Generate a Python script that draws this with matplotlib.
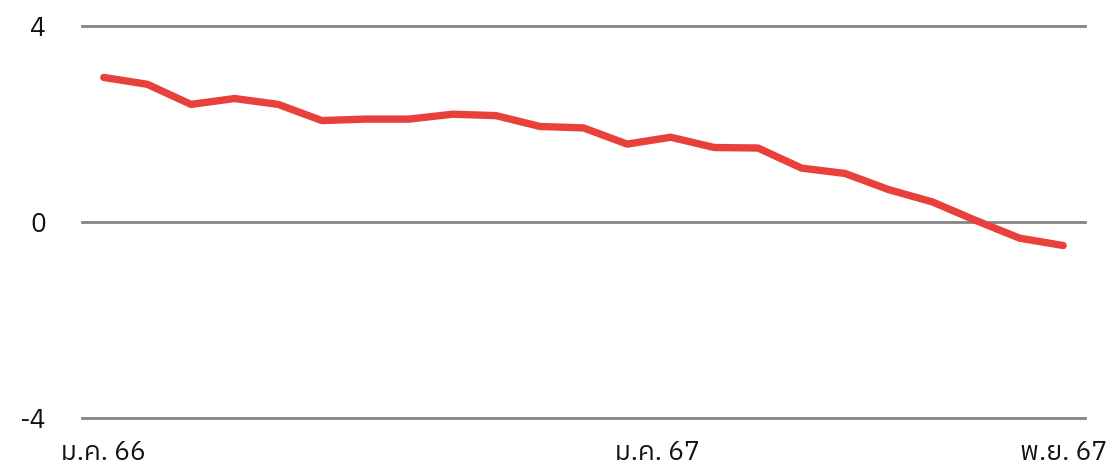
import matplotlib
matplotlib.use('Agg')
import matplotlib.pyplot as plt
from matplotlib import font_manager

# Values (monthly, ม.ค. 66 - พ.ย. 67)
values = [2.95, 2.81, 2.40, 2.52, 2.40, 2.07, 2.10, 2.10, 2.20, 2.17, 1.95,
          1.92, 1.59, 1.73, 1.52, 1.51, 1.10, 0.99, 0.66, 0.41, 0.03, -0.33, -0.48]
tick_labels = ['ม.ค. 66', 'ม.ค. 67', 'พ.ย. 67']
tick_pos = [0, 12.7, 22]
y_ticks = [-4, 0, 4]


def find_thai_font():
    # look for an installed family that has Thai glyphs
    try:
        from fontTools.ttLib import TTFont
    except Exception:
        return None
    found = []
    for f in font_manager.fontManager.ttflist:
        try:
            tt = TTFont(f.fname, fontNumber=0, lazy=True)
            cmap = tt.getBestCmap()
            if cmap and 0x0E21 in cmap and 0x0E04 in cmap:
                found.append(f.name)
        except Exception:
            pass
    if not found:
        return None
    found.sort(key=lambda n: (('Thai' not in n), ('Looped' in n), ('UI' in n),
                              ('Sans' not in n), n))
    return found[0]


thai = find_thai_font()
families = [thai, 'Noto Sans', 'DejaVu Sans'] if thai else ['Noto Sans', 'DejaVu Sans']
plt.rcParams['font.family'] = families

fig = plt.figure(figsize=(11.12, 4.67), dpi=100)
ax = fig.add_axes([82 / 1112, 1 - 418 / 467, (1085 - 82) / 1112, (418 - 26) / 467])

ax.plot(range(len(values)), values, color='#e8403a', linewidth=5.3,
        solid_capstyle='round', solid_joinstyle='round', zorder=3)

ax.set_xlim(-0.5, len(values) - 0.5)
ax.set_ylim(-4, 4)
ax.set_yticks(y_ticks)
ax.set_yticklabels([str(v) for v in y_ticks])
ax.set_xticks(tick_pos)
ax.set_xticklabels(tick_labels)

ax.yaxis.grid(True, color='#858585', linewidth=2)
ax.set_axisbelow(True)
for line in ax.get_ygridlines():
    line.set_clip_on(False)
for s in ax.spines.values():
    s.set_visible(False)
ax.tick_params(axis='y', length=0, pad=26, labelsize=19, labelcolor='#111111')
ax.tick_params(axis='x', length=0, pad=16, labelsize=19, labelcolor='#111111')

fig.savefig('out.png', dpi=100)
